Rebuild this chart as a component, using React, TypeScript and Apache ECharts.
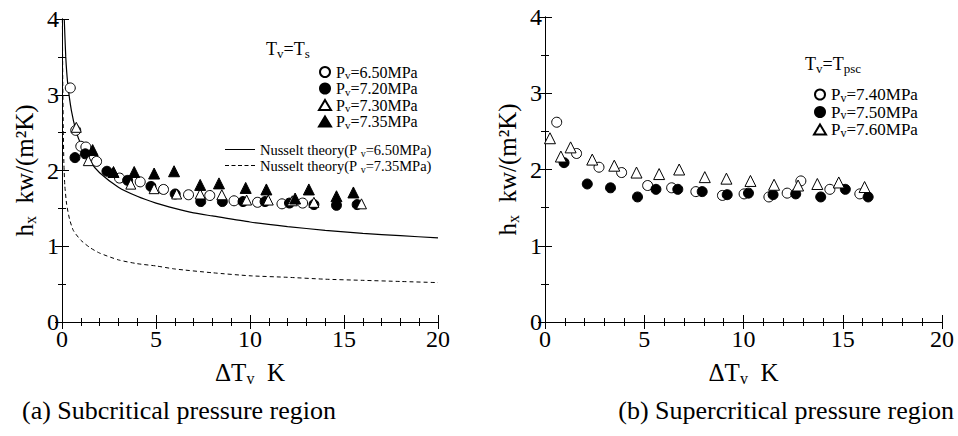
import React, { useEffect, useRef } from "react";
import * as echarts from "echarts";

const FONT = "Liberation Serif, Times New Roman, serif";

// ---------- (a) Subcritical pressure region ----------
const sub650: [number, number][] = [
  [0.44, 3.09], [0.73, 2.53], [1.0, 2.32], [1.27, 2.31], [1.84, 2.12], [3.06, 1.9],
  [4.16, 1.85], [5.4, 1.75], [6.73, 1.68], [7.86, 1.67], [9.15, 1.6], [10.4, 1.58],
  [11.7, 1.56], [12.8, 1.57],
];
const sub720: [number, number][] = [
  [0.69, 2.17], [1.24, 2.22], [2.39, 1.99], [3.49, 1.87], [4.73, 1.79], [6.02, 1.69],
  [7.38, 1.59], [8.53, 1.59], [9.63, 1.59], [10.8, 1.59], [12.1, 1.57], [13.4, 1.55],
  [14.6, 1.54], [15.7, 1.55],
];
const sub730: [number, number][] = [
  [0.76, 2.57], [1.4, 2.13], [3.66, 1.82], [4.9, 1.76], [6.1, 1.69], [7.35, 1.69],
  [8.5, 1.68], [9.82, 1.61], [10.97, 1.61], [12.25, 1.6], [13.4, 1.58], [15.93, 1.56],
];
const sub735: [number, number][] = [
  [1.63, 2.27], [2.74, 1.98], [3.84, 1.98], [4.9, 1.96], [5.96, 1.99], [7.35, 1.81],
  [8.35, 1.83], [9.77, 1.77], [10.87, 1.75], [12.4, 1.63], [13.13, 1.75], [14.6, 1.66],
  [15.5, 1.71],
];
const nusselt650: [number, number][] = [
  [0.12, 4.0], [0.2, 3.5], [0.3, 3.16], [0.5, 2.79], [0.75, 2.52], [1, 2.35], [1.5, 2.12],
  [2, 1.97], [3, 1.78], [4, 1.66], [5, 1.57], [6, 1.5], [7, 1.44], [8, 1.4], [10, 1.32],
  [12, 1.26], [14, 1.21], [16, 1.17], [18, 1.14], [20, 1.11],
];
const nusselt735: [number, number][] = [
  [0.02, 4.0], [0.04, 3.2], [0.07, 2.5], [0.1, 2.1], [0.15, 1.8], [0.25, 1.55], [0.4, 1.36],
  [0.6, 1.21], [1, 1.08], [1.5, 0.98], [2, 0.91], [3, 0.82], [4, 0.77], [5, 0.74],
  [6, 0.7], [8, 0.65], [10, 0.61], [12, 0.59], [14, 0.565], [16, 0.55], [18, 0.535],
  [20, 0.52],
];

// ---------- (b) Supercritical pressure region ----------
const sup740: [number, number][] = [
  [0.59, 2.62], [1.59, 2.21], [2.72, 2.03], [3.86, 1.96], [5.17, 1.79], [6.38, 1.76],
  [7.6, 1.71], [8.94, 1.66], [10.03, 1.68], [11.28, 1.64], [12.2, 1.69], [12.89, 1.85],
  [14.35, 1.74], [15.86, 1.68],
];
const sup750: [number, number][] = [
  [0.96, 2.09], [2.13, 1.81], [3.3, 1.76], [4.66, 1.64], [5.59, 1.74], [6.69, 1.74],
  [7.92, 1.71], [9.18, 1.67], [10.25, 1.69], [11.49, 1.67], [12.63, 1.68], [13.89, 1.64],
  [15.13, 1.74], [16.28, 1.64],
];
const sup760: [number, number][] = [
  [0.25, 2.41], [0.8, 2.17], [1.29, 2.29], [2.38, 2.13], [3.49, 2.05], [4.61, 1.96],
  [5.75, 1.94], [6.76, 2.0], [8.05, 1.9], [9.14, 1.88], [10.35, 1.85], [11.54, 1.8],
  [12.75, 1.79], [13.72, 1.81], [14.8, 1.83], [16.1, 1.77],
];

const xRange = { min: 0, max: 20, interval: 5 };
const yRange = { min: 0, max: 4, interval: 1 };
const captionA = "(a) Subcritical pressure region";
const captionB = "(b) Supercritical pressure region";

const richBase = (size: number, sub: number, lh: number) => ({
  a: { fontFamily: FONT, fontSize: size, color: "#000", lineHeight: lh },
  s: { fontFamily: FONT, fontSize: sub, color: "#000", lineHeight: sub, verticalAlign: "bottom" },
});

const legendFormatter = (name: string) => {
  const i = name.indexOf("P");
  const head = name.slice(0, i + 1);
  let rest = name.slice(i + 1);
  let sp = "";
  if (rest.startsWith(" ")) { sp = " "; rest = rest.slice(1); }
  const tail = rest.slice(1);
  return `{a|${head}${sp}}{s|v}{a|${tail}}`;
};

const solidIcon = "path://M0 0H30V1H0Z";
const dashedIcon =
  "path://M0 0H4V1H0Z M6.5 0H10.5V1H6.5Z M13 0H17V1H13Z M19.5 0H23.5V1H19.5Z M26 0H30V1H26Z";

function makeAxes(gridIndex: number) {
  const common = {
    gridIndex,
    type: "value",
    axisLine: { show: true, lineStyle: { color: "#000", width: 1 } },
    splitLine: { show: false },
    axisTick: { show: true, inside: true, length: 7, lineStyle: { color: "#000" } },
    minorTick: { show: true, length: 4, lineStyle: { color: "#000" } },
  };
  const xs = [
    {
      ...common, ...xRange, position: "bottom",
      minorTick: { ...common.minorTick, splitNumber: 5 },
      axisLabel: { show: true, fontFamily: FONT, fontSize: 24, color: "#000", margin: 5 },
      name: "{a|ΔT}{s|v}{a|  K}",
      nameLocation: "middle",
      nameGap: 36,
      nameTextStyle: { fontFamily: FONT, rich: richBase(25, 16, 28) },
    },
    {
      ...common, ...xRange, position: "top",
      minorTick: { ...common.minorTick, splitNumber: 5 },
      axisLabel: { show: false },
    },
  ];
  const ys = [
    {
      ...common, ...yRange, position: "left",
      minorTick: { ...common.minorTick, splitNumber: 2 },
      axisLabel: { show: true, fontFamily: FONT, fontSize: 24, color: "#000", margin: 3 },
      name: "{a|h}{s|x}{a|  kw/(m²K)}",
      nameLocation: "middle",
      nameGap: 24,
      nameTextStyle: { fontFamily: FONT, rich: richBase(25, 16, 28) },
    },
    {
      ...common, ...yRange, position: "right",
      minorTick: { ...common.minorTick, splitNumber: 2 },
      axisLabel: { show: false },
    },
  ];
  return { xs, ys };
}

function scatter(name: string, data: [number, number][], grid: number, symbol: string, filled: boolean, size: number) {
  return {
    type: "scatter",
    name,
    data,
    xAxisIndex: grid * 2,
    yAxisIndex: grid * 2,
    symbol,
    symbolSize: size,
    itemStyle: { color: filled ? "#000" : "#fff", borderColor: "#000", borderWidth: 1, opacity: 1 },
    z: 3,
  };
}

export default function App() {
  const ref = useRef<HTMLDivElement>(null);
  useEffect(() => {
    if (!ref.current) return;
    const chart = echarts.init(ref.current, undefined, { renderer: "svg" });
    const a = makeAxes(0);
    const b = makeAxes(1);
    const nusseltA = "Nusselt theory(P v=6.50MPa)";
    const nusseltB = "Nusselt theory(P v=7.35MPa)";
    const option = {
      animation: false,
      backgroundColor: "#fff",
      textStyle: { fontFamily: FONT },
      grid: [
        { left: 62, top: 19, width: 376, height: 303 },
        { left: 545, top: 17, width: 397, height: 305 },
      ],
      xAxis: [...a.xs, ...b.xs],
      yAxis: [...a.ys, ...b.ys],
      legend: [
        {
          data: ["Pv=6.50MPa", "Pv=7.20MPa", "Pv=7.30MPa", "Pv=7.35MPa"],
          orient: "vertical", left: 313, top: 59, itemGap: 0,
          itemWidth: 12, itemHeight: 10,
          formatter: legendFormatter,
          textStyle: { fontFamily: FONT, rich: richBase(16, 11, 17) },
          selectedMode: false,
        },
        {
          data: [
            { name: nusseltA, icon: solidIcon },
            { name: nusseltB, icon: dashedIcon },
          ],
          orient: "vertical", left: 220, top: 137, itemGap: 0,
          itemWidth: 30, itemHeight: 1,
          formatter: legendFormatter,
          itemStyle: { color: "#000", borderWidth: 0 },
          textStyle: { fontFamily: FONT, rich: richBase(14.5, 10, 17) },
          selectedMode: false,
        },
        {
          data: ["Pv=7.40MPa", "Pv=7.50MPa", "Pv=7.60MPa"],
          orient: "vertical", left: 808, top: 81, itemGap: 0,
          itemWidth: 12, itemHeight: 10,
          formatter: legendFormatter,
          textStyle: { fontFamily: FONT, rich: richBase(17, 12, 18) },
          selectedMode: false,
        },
      ],
      graphic: [
        {
          type: "text", left: 266, top: 40,
          style: { text: "{a|T}{s|v}{a|=T}{s|s}", fontFamily: FONT, rich: richBase(18, 13, 22) },
        },
        {
          type: "text", left: 805, top: 55,
          style: { text: "{a|T}{s|v}{a|=T}{s|psc}", fontFamily: FONT, rich: richBase(18, 13, 22) },
        },
        {
          type: "text", left: 22, top: 397,
          style: { text: captionA, fontFamily: FONT, fontSize: 26, fill: "#000" },
        },
        {
          type: "text", right: 4, top: 397,
          style: { text: captionB, fontFamily: FONT, fontSize: 26, fill: "#000" },
        },
      ],
      series: [
        scatter("Pv=6.50MPa", sub650, 0, "circle", false, 10),
        scatter("Pv=7.20MPa", sub720, 0, "circle", true, 10),
        scatter("Pv=7.30MPa", sub730, 0, "triangle", false, 10),
        scatter("Pv=7.35MPa", sub735, 0, "triangle", true, 11),
        {
          type: "line", name: nusseltA, data: nusselt650, xAxisIndex: 0, yAxisIndex: 0,
          showSymbol: false, symbol: "none", smooth: 0.2,
          lineStyle: { color: "#000", width: 1.2, type: "solid" }, itemStyle: { color: "#000" }, z: 2,
        },
        {
          type: "line", name: nusseltB, data: nusselt735, xAxisIndex: 0, yAxisIndex: 0,
          showSymbol: false, symbol: "none", smooth: 0.2,
          lineStyle: { color: "#000", width: 1, type: [4, 3] }, itemStyle: { color: "#000" }, z: 2,
        },
        scatter("Pv=7.40MPa", sup740, 1, "circle", false, 10),
        scatter("Pv=7.50MPa", sup750, 1, "circle", true, 10),
        scatter("Pv=7.60MPa", sup760, 1, "triangle", false, 11),
      ],
    };
    chart.setOption(option as any);
    return () => chart.dispose();
  }, []);
  return (
    <div
      ref={ref}
      style={{ position: "fixed", left: 0, top: 0, width: 958, height: 436, background: "#fff" }}
    />
  );
}
